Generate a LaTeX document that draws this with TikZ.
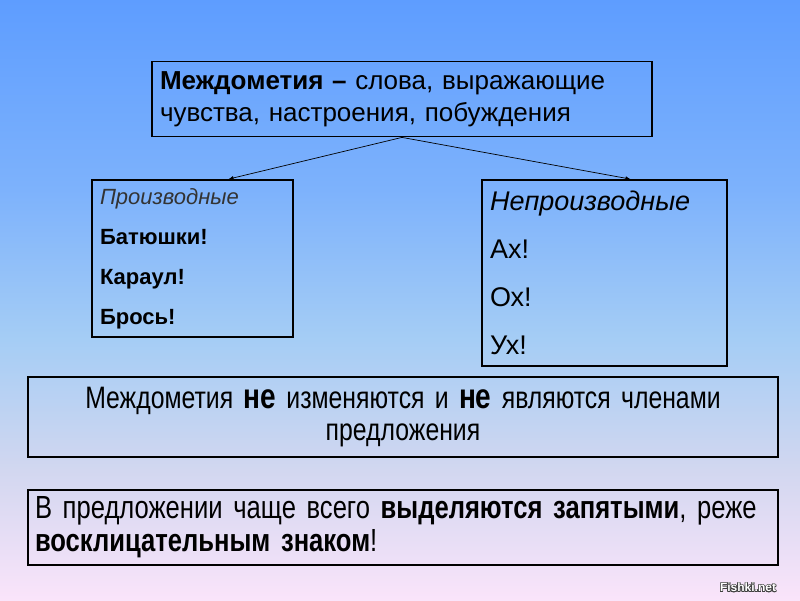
\documentclass[tikz,border=0pt]{standalone}
\usepackage{fontspec}
\setmainfont{Liberation Sans}
\newfontfamily\narrowsans[FakeStretch=0.8]{Liberation Sans}
\usepackage{contour}
\contourlength{0.6pt}
\usetikzlibrary{arrows.meta}

\definecolor{skytop}{RGB}{94,157,255}
\definecolor{skyhigh}{RGB}{125,178,252}
\definecolor{skymid}{RGB}{165,205,245}
\definecolor{skylow}{RGB}{210,215,240}
\definecolor{skyend}{RGB}{250,228,250}
\pgfdeclareverticalshading{skyfade}{100bp}{color(0bp)=(skyend); color(25bp)=(skyend);
  color(35.8bp)=(skylow); color(46.7bp)=(skymid); color(59.2bp)=(skyhigh);
  color(75bp)=(skytop); color(100bp)=(skytop)}

\tikzset{
  box/.style={draw=black, line width=1.8pt, inner sep=0pt},
  pointer/.style={-{Latex[length=5pt,width=4pt]}, line width=0.7pt},
}

\begin{document}
\begin{tikzpicture}[x=1pt, y=-1pt]

\shade[shading=skyfade] (0,0) rectangle (800,600);
\useasboundingbox (0,0) rectangle (800,600);

\node[box, minimum width=500pt, minimum height=75pt, text width=484pt, align=left,
  font=\fontsize{26}{32}\selectfont] (def) at (402,99)
  {\textbf{Междометия –} слова, выражающие\\ чувства, настроения, побуждения};

\node[box, minimum width=201pt, minimum height=157pt, text width=185pt, align=left,
  font=\fontsize{22}{40}\selectfont] (deriv) at (192.5,258.5)
  {{\color{black!80}\itshape Производные}\\ \textbf{Батюшки!}\\ \textbf{Караул!}\\ \textbf{Брось!}};

\node[box, minimum width=245pt, minimum height=186pt, text width=229pt, align=left,
  font=\fontsize{27}{48}\selectfont] (nonderiv) at (604.5,273)
  {\textit{Непроизводные}\\ Ах!\\ Ох!\\ Ух!};

\node[box, minimum width=750pt, minimum height=80pt, text width=740pt, align=center,
  font=\narrowsans\fontsize{31}{32}\selectfont] (fixed) at (403,417)
  {Междометия {\fontsize{35}{32}\selectfont\bfseries не} изменяются и {\fontsize{35}{32}\selectfont\bfseries не} являются членами\\ предложения};

\node[box, minimum width=750pt, minimum height=75pt, text width=736pt, align=left,
  font=\narrowsans\fontsize{32}{33}\selectfont] (punct) at (403,527.5)
  {В предложении чаще всего \textbf{выделяются запятыми}, реже\\ \textbf{восклицательным знаком}!};

\draw[pointer] (def.south) -- ([xshift=36pt]deriv.north);
\draw[pointer] (def.south) -- ([xshift=26pt]nonderiv.north);

\node[font=\fontsize{12}{14}\selectfont\bfseries] (mark) at (748,588)
  {\contour{black!75}{\textcolor{white}{Fishki.net}}};

\end{tikzpicture}
\end{document}
